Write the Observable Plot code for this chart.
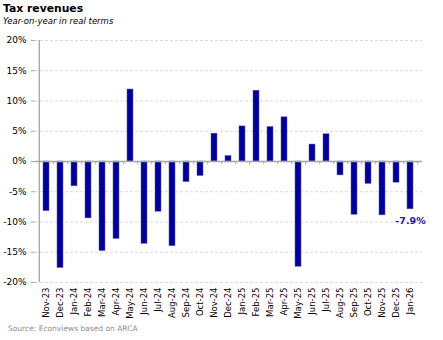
<!DOCTYPE html>
<html>
<head>
<meta charset="utf-8">
<script src="https://cdn.jsdelivr.net/npm/d3@7"></script>
<script src="https://cdn.jsdelivr.net/npm/@observablehq/plot@0.6"></script>
<style>
  html, body { margin: 0; padding: 0; background: #fff; }
  #wrap { position: relative; width: 443px; height: 340px; overflow: hidden; font-family: "DejaVu Sans", Verdana, sans-serif; }
  #title { position: absolute; left: 3px; top: 2px; font-size: 10.8px; font-weight: bold; color: #000; }
  #subtitle { position: absolute; left: 3px; top: 16px; font-size: 8.5px; font-style: italic; color: #000; }
  #source { position: absolute; left: 8px; top: 324px; font-size: 7.5px; color: #8c8c8c; }
  #chart { position: absolute; left: 0; top: 0; }
</style>
</head>
<body>
<div id="wrap">
  <div id="chart"></div>
  <div id="title">Tax revenues</div>
  <div id="subtitle">Year-on-year in real terms</div>
  <div id="source">Source: Econviews based on ARCA</div>
</div>
<script>
const months = ["Nov-23","Dec-23","Jan-24","Feb-24","Mar-24","Apr-24","May-24","Jun-24","Jul-24","Aug-24","Sep-24","Oct-24","Nov-24","Dec-24","Jan-25","Feb-25","Mar-25","Apr-25","May-25","Jun-25","Jul-25","Aug-25","Sep-25","Oct-25","Nov-25","Dec-25","Jan-26"];
const values = [-8.2,-17.6,-4.1,-9.4,-14.8,-12.8,11.9,-13.6,-8.3,-14.0,-3.4,-2.4,4.6,0.9,5.8,11.7,5.7,7.3,-17.4,2.8,4.5,-2.3,-8.8,-3.7,-8.9,-3.5,-7.9];
const yTicks = [-20,-15,-10,-5,0,5,10,15,20];
const lastLabel = "-7.9%";

const data = months.map((m, i) => ({month: m, value: values[i]}));
const last = data[data.length - 1];

const W = 443, H = 340, ML = 35, MR = 21;
const step = (W - ML - MR) / months.length;

const chart = Plot.plot({
  width: W,
  height: H,
  marginTop: 40,
  marginBottom: 58,
  marginLeft: ML,
  marginRight: MR,
  style: {fontFamily: "DejaVu Sans, Verdana, sans-serif", fontSize: "9px", color: "#000", background: "transparent"},
  x: {domain: months, paddingInner: 0.55, paddingOuter: 0.275, label: null},
  y: {domain: [-20, 20], label: null},
  marks: [
    Plot.ruleY(yTicks.filter(d => d !== 0), {stroke: "#d9d9d9", strokeDasharray: "3,2"}),
    Plot.barY(data, {x: "month", y: "value", fill: "#000096", stroke: "#5a5ab8", strokeWidth: 0.5}),
    Plot.ruleY([0], {stroke: "#a6a6a6", strokeWidth: 1.5}),
    Plot.ruleX(months, {x: d => d, y1: 0, y2: -0.55, dx: step / 2, stroke: "#a6a6a6"}),
    Plot.ruleX([0], {x: () => months[0], y1: -20, y2: 20, dx: -step / 2, stroke: "#a6a6a6", strokeWidth: 1.3}),
    Plot.axisY({ticks: yTicks, tickFormat: d => d + "%", tickSize: 4, tickPadding: 5, stroke: "#a6a6a6", fontSize: 9, label: null}),
    Plot.axisX({tickRotate: -90, tickSize: 0, tickPadding: 5, fontSize: 8.5, label: null}),
    Plot.text([last], {x: "month", y: "value", text: () => lastLabel, dy: 12, fill: "#1a1a99", fontWeight: "bold", fontSize: 9.5})
  ]
});
document.getElementById("chart").appendChild(chart);
</script>
</body>
</html>
